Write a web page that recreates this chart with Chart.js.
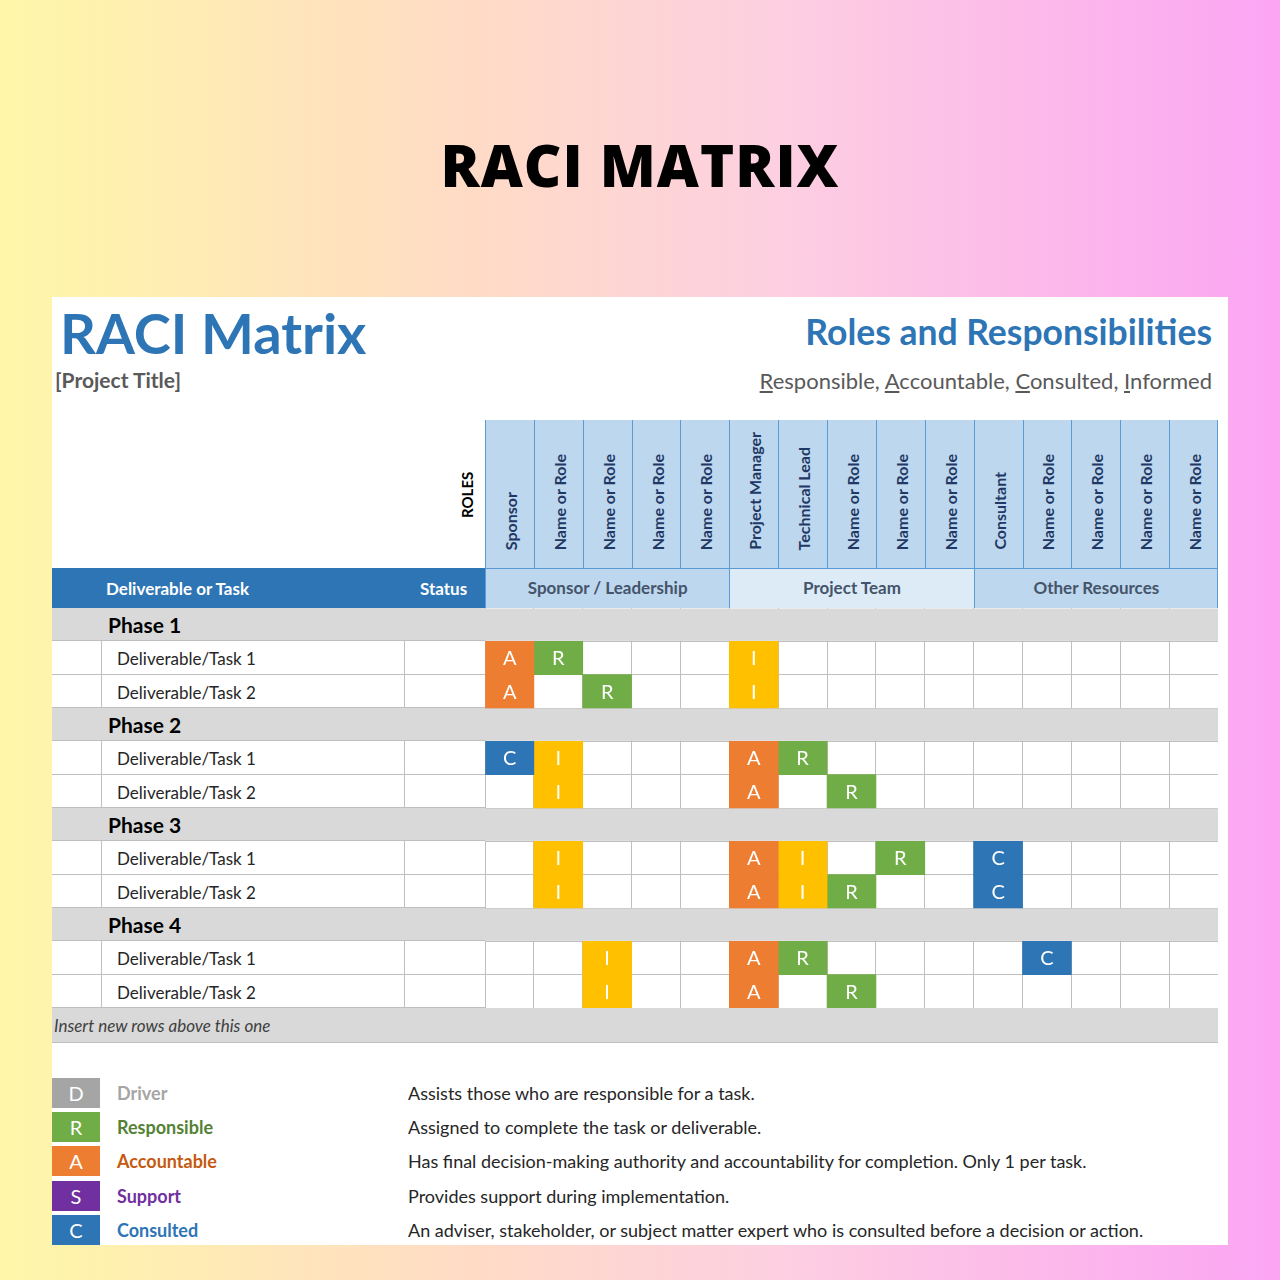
<!DOCTYPE html>
<html><head><meta charset="utf-8">
<script src="https://cdn.jsdelivr.net/npm/chart.js@4.4.1/dist/chart.umd.min.js"></script>
<style>
body{margin:0;width:1280px;height:1280px;position:relative;overflow:hidden;font-family:Lato,"Open Sans",sans-serif;
background:linear-gradient(90deg,#fff7a8 0%,#ffdcc4 35%,#fdd0e0 60%,#fba5f3 100%);}
.a{position:absolute;white-space:nowrap}
#panel{position:absolute;left:52px;top:297px;width:1176px;height:948px;background:#fff}
.role{position:absolute;top:420px;height:148px;background:#bdd7ee;border-left:1px solid #5b9bd5;box-sizing:border-box}
.role span{position:absolute;left:50%;bottom:18px;white-space:nowrap;writing-mode:vertical-rl;transform:translateX(-50%) rotate(180deg);font-weight:700;font-size:16px;color:#1f3864}
.cell{position:absolute;box-sizing:border-box;border-bottom:1px solid #bfbfbf}
.u{text-decoration:underline}
</style></head><body>
<div class="a" style="left:0;width:1280px;top:125px;text-align:center;font-size:58px;font-weight:900;letter-spacing:1px;color:#000;font-family:'Open Sans',sans-serif;">RACI MATRIX</div>
<div id="panel"></div>
<div class="a" style="left:60px;top:299px;font-size:56px;font-weight:700;color:#2e75b6">RACI Matrix</div>
<div class="a" style="left:55px;top:367px;font-size:21px;font-weight:700;color:#595959">[Project Title]</div>
<div class="a" style="right:68px;top:310px;font-size:35.5px;font-weight:700;color:#2e75b6">Roles and Responsibilities</div>
<div class="a" style="right:68px;top:367px;font-size:22px;color:#595959"><span class="u">R</span>esponsible, <span class="u">A</span>ccountable, <span class="u">C</span>onsulted, <span class="u">I</span>nformed</div>
<div class="a" style="left:458px;top:518px;transform:rotate(-90deg);transform-origin:0 0;font-size:15px;font-weight:700">ROLES</div>
<div id="hdr"></div>
<div class="a" style="left:52px;top:568px;width:433px;height:40px;background:#2e75b6"></div>
<div class="a" style="left:106px;top:578px;font-size:17px;font-weight:700;color:#fff">Deliverable or Task</div>
<div class="a" style="left:420px;top:578px;font-size:17px;font-weight:700;color:#fff">Status</div>
<div id="left"></div>
<div class="a" style="left:485px;top:608px;width:733px;height:400px;background:#fff"><canvas id="c" width="733" height="400"></canvas></div>
<div class="a" style="left:52px;top:1008px;width:1166px;height:34px;background:#d9d9d9;border-bottom:1px solid #bfbfbf"></div>
<div class="a" style="left:54px;top:1015px;font-size:17px;font-style:italic;color:#404040">Insert new rows above this one</div>
<div id="legend"></div>
<script>
const roles=["Sponsor","Name or Role","Name or Role","Name or Role","Name or Role","Project Manager","Technical Lead","Name or Role","Name or Role","Name or Role","Consultant","Name or Role","Name or Role","Name or Role","Name or Role"];
const groups=["Sponsor / Leadership","Project Team","Other Resources"];
const rowLabels=["Phase 1","Deliverable/Task 1","Deliverable/Task 2","Phase 2","Deliverable/Task 1","Deliverable/Task 2","Phase 3","Deliverable/Task 1","Deliverable/Task 2","Phase 4","Deliverable/Task 1","Deliverable/Task 2"];
const isPhase=[1,0,0,1,0,0,1,0,0,1,0,0];
const assignments=[
"...............",
"AR...I.........",
"A.R..I.........",
"...............",
"CI...AR........",
".I...A.R.......",
"...............",
".I...AI.R.C....",
".I...AIR..C....",
"...............",
"..I..AR....C...",
"..I..A.R......."];
const colors={A:"#ed7d31",R:"#70ad47",I:"#ffc000",C:"#2e75b6",D:"#a5a5a5",S:"#7030a0"};
const legendKeys=["D","R","A","S","C"];
const legendNames=["Driver","Responsible","Accountable","Support","Consulted"];
const legendText=["Assists those who are responsible for a task.","Assigned to complete the task or deliverable.","Has final decision-making authority and accountability for completion. Only 1 per task.","Provides support during implementation.","An adviser, stakeholder, or subject matter expert who is consulted before a decision or action."];

const X0=485,CW=733/15;let h="";
roles.forEach((r,i)=>{h+=`<div class="role" style="left:${X0+i*CW}px;width:${CW}px"><span>${r}</span></div>`;});
const gbg=["#bdd7ee","#ddebf7","#bdd7ee"];
groups.forEach((g,i)=>{h+=`<div class="a" style="left:${X0+i*5*CW}px;top:568px;width:${5*CW}px;height:40px;background:${gbg[i]};border-left:1px solid #5b9bd5;border-top:1px solid #5b9bd5;box-sizing:border-box;text-align:center;line-height:38px;font-size:17px;font-weight:700;color:#44546a">${g}</div>`;});
h+=`<div class="a" style="left:1217px;top:420px;height:188px;border-left:1px solid #5b9bd5"></div>`;
document.getElementById('hdr').innerHTML=h;
let l="";const RH=400/12;
rowLabels.forEach((t,i)=>{const y=608+i*RH;
 if(isPhase[i]){l+=`<div class="cell a" style="left:52px;top:${y}px;width:433px;height:${RH}px;background:#d9d9d9"></div><div class="a" style="left:108px;top:${y+4}px;font-size:21px;font-weight:700">${t}</div>`;}
 else{l+=`<div class="cell a" style="left:52px;top:${y}px;width:50px;height:${RH}px;border-right:1px solid #bfbfbf"></div><div class="cell a" style="left:102px;top:${y}px;width:303px;height:${RH}px;border-right:1px solid #bfbfbf"></div><div class="cell a" style="left:405px;top:${y}px;width:80px;height:${RH}px"></div><div class="a" style="left:117px;top:${y+7}px;font-size:17px;color:#262626">${t}</div>`;}
});
document.getElementById('left').innerHTML=l;
let g="";legendKeys.forEach((k,i)=>{const y=1078+i*34.2;
 g+=`<div class="a" style="left:52px;top:${y}px;width:48px;height:30px;background:${colors[k]};color:#fff;font-size:20px;text-align:center;line-height:30px">${k}</div>`;
 g+=`<div class="a" style="left:117px;top:${y+4}px;font-size:18px;font-weight:700;color:${k=='A'?'#c55a11':k=='D'?'#a5a5a5':k=='R'?'#548235':colors[k]}">${legendNames[i]}</div>`;
 g+=`<div class="a" style="left:408px;top:${y+4}px;font-size:18px;color:#262626">${legendText[i]}</div>`;});
document.getElementById('legend').innerHTML=g;

const datasets=roles.map((r,c)=>({label:r+c,
 data:assignments.map(s=>s[c]!=='.'?[c,c+1]:null),
 backgroundColor:assignments.map(s=>colors[s[c]]||'transparent'),
 letters:assignments.map(s=>s[c]),
 barPercentage:1,categoryPercentage:1,grouped:false}));
const plug={id:'p',
 beforeDatasetsDraw(ch){const ctx=ch.ctx,y=ch.scales.y,a=ch.chartArea;ctx.save();ctx.fillStyle='#d9d9d9';
  rowLabels.forEach((t,i)=>{if(isPhase[i]){const c=y.getPixelForValue(i),hh=y.height/rowLabels.length;ctx.fillRect(a.left-1,c-hh/2+0.5,a.right-a.left+2,hh-1);}});ctx.restore();},
 afterDatasetsDraw(ch){const ctx=ch.ctx;ctx.save();ctx.fillStyle='#fff';ctx.font='20px Lato';ctx.textAlign='center';ctx.textBaseline='middle';
  ch.data.datasets.forEach((d,di)=>{ch.getDatasetMeta(di).data.forEach((el,i)=>{if(d.data[i]){const p=el.getProps(['x','base','y'],true);ctx.fillText(d.letters[i],(p.x+p.base)/2,p.y+1);}});});ctx.restore();}};
new Chart(document.getElementById('c'),{type:'bar',data:{labels:rowLabels,datasets},
 options:{indexAxis:'y',responsive:false,animation:false,layout:{padding:0},
  plugins:{legend:{display:false},tooltip:{enabled:false}},
  scales:{x:{type:'linear',min:0,max:15,ticks:{display:false,stepSize:1},grid:{color:'#bfbfbf',drawTicks:false},border:{color:'#bfbfbf'}},
   y:{ticks:{display:false},grid:{color:'#bfbfbf',drawTicks:false,offset:true},border:{color:'#bfbfbf'}}}},
 plugins:[plug]});
</script></body></html>
